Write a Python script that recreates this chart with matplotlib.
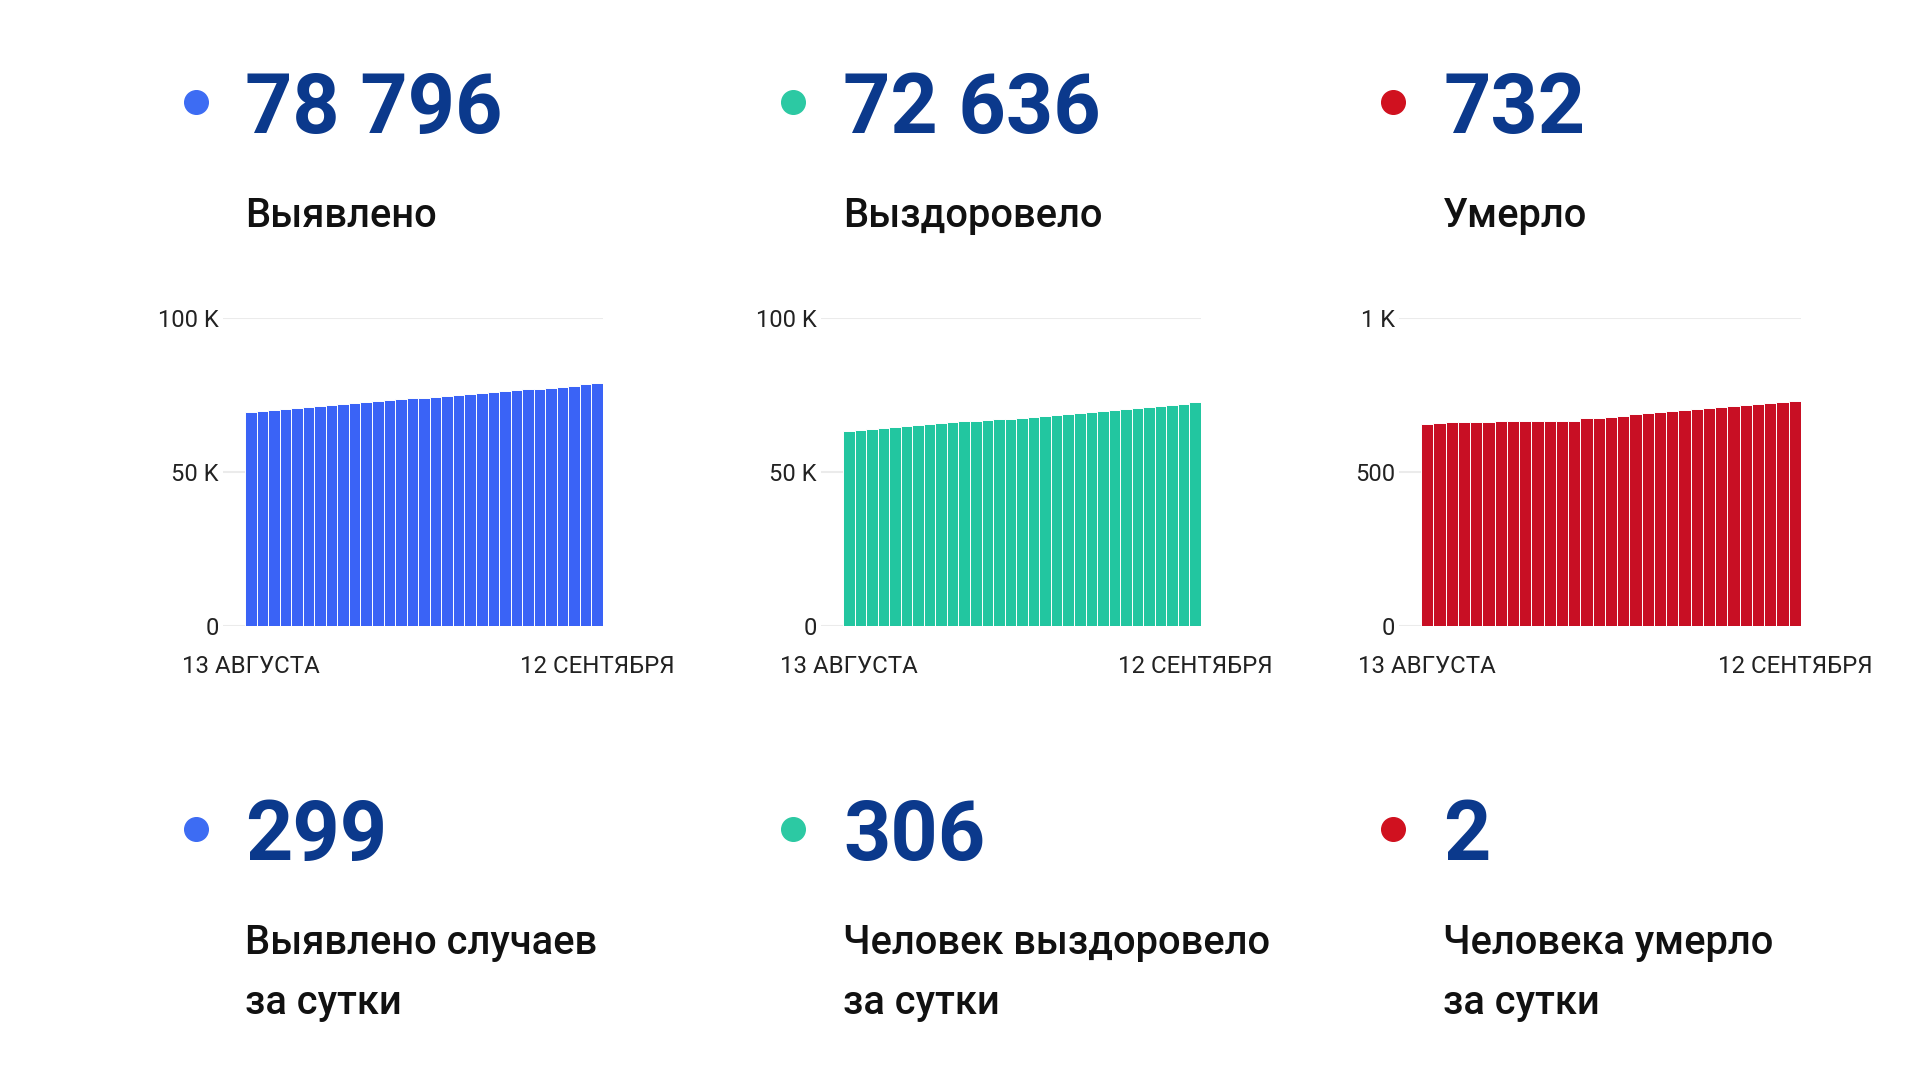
import matplotlib
matplotlib.use("Agg")
import matplotlib.pyplot as plt
from matplotlib.lines import Line2D
import numpy as np

plt.rcParams["font.family"] = ["Roboto", "DejaVu Sans"]

# daily cumulative values, 13 Aug .. 12 Sep
cases = [69620, 69830, 70160, 70480, 70800, 71130, 71450, 71780, 71990, 72320,
         72640, 72960, 73290, 73610, 73940, 74150, 74480, 74800, 75120, 75450,
         75770, 76100, 76310, 76640, 76850, 77070, 77390, 77720, 78040, 78470, 78796]
recovered = [63460, 63780, 64110, 64430, 64750, 65080, 65400, 65730, 66050, 66270,
             66480, 66700, 66920, 67130, 67350, 67680, 68000, 68330, 68540, 68870,
             69190, 69520, 69840, 70170, 70490, 70820, 71140, 71470, 71790, 72220, 72636]
deaths = [656, 660, 661, 662, 663, 663, 664, 664, 665, 665,
          666, 667, 667, 674, 676, 680, 683, 688, 691, 694,
          697, 700, 704, 707, 710, 714, 717, 720, 723, 728, 732]

date_labels = ["13 АВГУСТА", "12 СЕНТЯБРЯ"]

totals = ["78 796", "72 636", "732"]
total_labels = ["Выявлено", "Выздоровело", "Умерло"]
daily = ["299", "306", "2"]
daily_labels = ["Выявлено случаев\nза сутки", "Человек выздоровело\nза сутки", "Человека умерло\nза сутки"]

y_ticks = [[0, 50000, 100000], [0, 50000, 100000], [0, 500, 1000]]
y_ticklabels = [["0", "50 K", "100 K"], ["0", "50 K", "100 K"], ["0", "500", "1 K"]]

bar_colors = ["#3A63F6", "#22C6A0", "#C80F24"]
dot_colors = ["#3D6CF3", "#2CC9A3", "#D0111F"]
num_color = "#0B398C"

W, H = 1920, 1080
fig = plt.figure(figsize=(19.2, 10.8), dpi=100)
fig.patch.set_facecolor("white")

dot_x = [196, 793, 1393]
text_x = [245, 843, 1443]
# axes: (gridline left px, bars left px, right px)
axes_px = [(223, 245, 603), (821, 843, 1201), (1399, 1421, 1801)]
ax_bottom, ax_top = 626, 318

series = [cases, recovered, deaths]

for i in range(3):
    gl, bl, r = axes_px[i]
    ax = fig.add_axes([gl / W, 1 - ax_bottom / H, (r - gl) / W, (ax_bottom - ax_top) / H])
    n = len(series[i])
    x = np.arange(n)
    ax.bar(x, series[i], width=1.0, color=bar_colors[i], edgecolor="#FFFFFF",
           linewidth=0.7, zorder=2)
    px_per_unit = (r - bl) / n
    ax.set_xlim(-0.5 - (bl - gl) / px_per_unit, n - 0.5)
    ax.set_ylim(0, y_ticks[i][-1])
    ax.set_yticks(y_ticks[i])
    ax.set_yticklabels(y_ticklabels[i])
    ax.set_xticks([0, n - 1])
    ax.set_xticklabels(date_labels)
    ax.tick_params(axis="y", length=0, pad=3, labelsize=17, labelcolor="#222222")
    ax.tick_params(axis="x", length=0, pad=21, labelsize=17.3, labelcolor="#222222")
    ax.grid(axis="y", color="#EBEBEB", linewidth=1.5, zorder=0)
    ax.set_axisbelow(True)
    for s in ax.spines.values():
        s.set_visible(False)

    # top block
    fig.add_artist(Line2D([dot_x[i] / W], [1 - 102 / H], marker="o", markersize=17,
                          color=dot_colors[i], transform=fig.transFigure))
    fig.text(text_x[i] / W, 1 - 133 / H, totals[i], fontsize=59.5, fontweight="bold",
             color=num_color, ha="left", va="baseline")
    fig.text(text_x[i] / W, 1 - 227 / H, total_labels[i], fontsize=28.7, fontweight="medium",
             color="#111111", ha="left", va="baseline")

    # bottom block
    fig.add_artist(Line2D([dot_x[i] / W], [1 - 829 / H], marker="o", markersize=17,
                          color=dot_colors[i], transform=fig.transFigure))
    fig.text(text_x[i] / W, 1 - 860 / H, daily[i], fontsize=59.5, fontweight="bold",
             color=num_color, ha="left", va="baseline")
    line1, line2 = daily_labels[i].split("\n")
    fig.text(text_x[i] / W, 1 - 954 / H, line1, fontsize=28.7, fontweight="medium",
             color="#111111", ha="left", va="baseline")
    fig.text(text_x[i] / W, 1 - 1014 / H, line2, fontsize=28.7, fontweight="medium",
             color="#111111", ha="left", va="baseline")

fig.savefig("out.png", dpi=100, facecolor="white")
